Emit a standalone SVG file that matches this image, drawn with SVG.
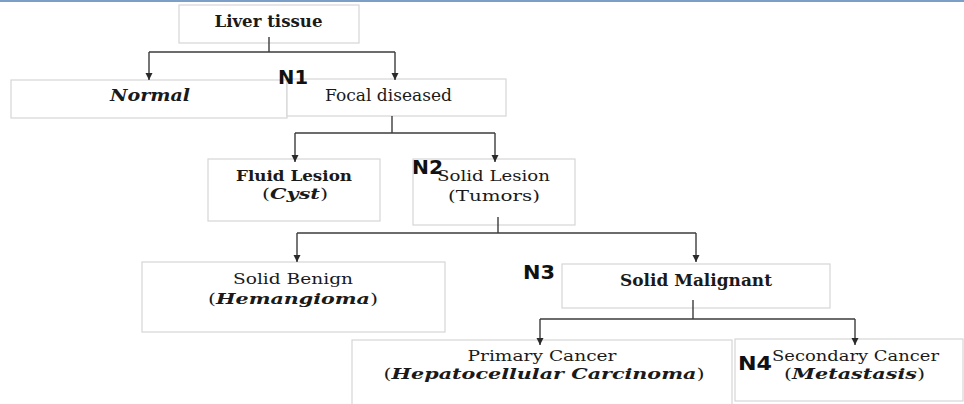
<svg xmlns="http://www.w3.org/2000/svg" width="964" height="404" viewBox="0 0 964 404">
<style>
.box{fill:#fff;stroke:#d6d6d6;stroke-width:1.2}
.t{font-family:"DejaVu Serif","Liberation Serif",serif;font-size:16px;fill:#1a1a1a;text-anchor:middle}
.s{font-size:15px}
.b{font-weight:bold}
.bi{font-weight:bold;font-style:italic}
.lbl{font-family:"DejaVu Sans","Liberation Sans",sans-serif;font-weight:bold;font-size:20px;fill:#111}
.c{fill:none;stroke:#3c3c3c;stroke-width:1.4}
</style>
<defs>
<marker id="ah" markerUnits="userSpaceOnUse" markerWidth="8" markerHeight="8" refX="7" refY="4" orient="auto" viewBox="0 0 8 8">
<path d="M0,0.5 L7,4 L0,7.5 Z" fill="#2a2a2a"/>
</marker>
</defs>
<rect width="964" height="404" fill="#fff"/>
<line x1="0" y1="1" x2="964" y2="1" stroke="#4f7fb5" stroke-width="1.5"/>

<g id="liver">
<rect class="box" x="179" y="5" width="180" height="38"/>
<text class="t b" x="268.5" y="27" textLength="108" lengthAdjust="spacingAndGlyphs">Liver tissue</text>
</g>
<g id="normal">
<rect class="box" x="11" y="80" width="276" height="38"/>
<text class="t bi" x="150" y="101" textLength="80" lengthAdjust="spacingAndGlyphs">Normal</text>
</g>
<g id="focal">
<rect class="box" x="287" y="79" width="219" height="37"/>
<text class="t" x="388.5" y="101" textLength="127" lengthAdjust="spacingAndGlyphs">Focal diseased</text>
</g>
<g id="fluid">
<rect class="box" x="208" y="159" width="172" height="62"/>
<text class="t s b" x="294" y="181" textLength="116" lengthAdjust="spacingAndGlyphs">Fluid Lesion</text>
<text class="t s" x="295" y="199" textLength="66" lengthAdjust="spacingAndGlyphs">(<tspan class="bi">Cyst</tspan>)</text>
</g>
<g id="solid">
<rect class="box" x="413" y="159" width="162" height="66"/>
<text class="t s" x="493.5" y="181" textLength="113" lengthAdjust="spacingAndGlyphs">Solid Lesion</text>
<text class="t s" x="494" y="201" textLength="92" lengthAdjust="spacingAndGlyphs">(Tumors)</text>
</g>
<g id="benign">
<rect class="box" x="142" y="262" width="303" height="70"/>
<text class="t s" x="293" y="284" textLength="120" lengthAdjust="spacingAndGlyphs">Solid Benign</text>
<text class="t s" x="293" y="304" textLength="170" lengthAdjust="spacingAndGlyphs">(<tspan class="bi">Hemangioma</tspan>)</text>
</g>
<g id="malignant">
<rect class="box" x="562" y="264" width="268" height="44"/>
<text class="t b" x="696" y="286" textLength="152" lengthAdjust="spacingAndGlyphs">Solid Malignant</text>
</g>
<g id="primary">
<rect class="box" x="352" y="340" width="380" height="70"/>
<text class="t s" x="542" y="361" textLength="149" lengthAdjust="spacingAndGlyphs">Primary Cancer</text>
<text class="t s" x="544" y="379" textLength="321" lengthAdjust="spacingAndGlyphs">(<tspan class="bi">Hepatocellular  Carcinoma</tspan>)</text>
</g>
<g id="secondary">
<rect class="box" x="735" y="339" width="228" height="62"/>
<text class="t s" x="855.5" y="361" textLength="167" lengthAdjust="spacingAndGlyphs">Secondary Cancer</text>
<text class="t s" x="854.5" y="379" textLength="141" lengthAdjust="spacingAndGlyphs">(<tspan class="bi">Metastasis</tspan>)</text>
</g>

<g id="connectors">
<path class="c" d="M269,37 V52 M149,52 H395"/>
<path class="c" d="M149,52 V80" marker-end="url(#ah)"/>
<path class="c" d="M395,52 V80" marker-end="url(#ah)"/>
<path class="c" d="M392,116 V133 M295,133 H495"/>
<path class="c" d="M295,133 V162" marker-end="url(#ah)"/>
<path class="c" d="M495,133 V162" marker-end="url(#ah)"/>
<path class="c" d="M498,217 V233 M297,233 H696"/>
<path class="c" d="M297,233 V262" marker-end="url(#ah)"/>
<path class="c" d="M696,233 V262" marker-end="url(#ah)"/>
<path class="c" d="M693,300 V319 M540,319 H855"/>
<path class="c" d="M540,319 V345" marker-end="url(#ah)"/>
<path class="c" d="M855,319 V345" marker-end="url(#ah)"/>
</g>

<g id="labels">
<text class="lbl" x="278" y="83.5" textLength="30" lengthAdjust="spacingAndGlyphs">N1</text>
<text class="lbl" x="412" y="174" textLength="31" lengthAdjust="spacingAndGlyphs">N2</text>
<text class="lbl" x="523" y="279" textLength="32" lengthAdjust="spacingAndGlyphs">N3</text>
<text class="lbl" x="738" y="370" textLength="34" lengthAdjust="spacingAndGlyphs">N4</text>
</g>
</svg>
